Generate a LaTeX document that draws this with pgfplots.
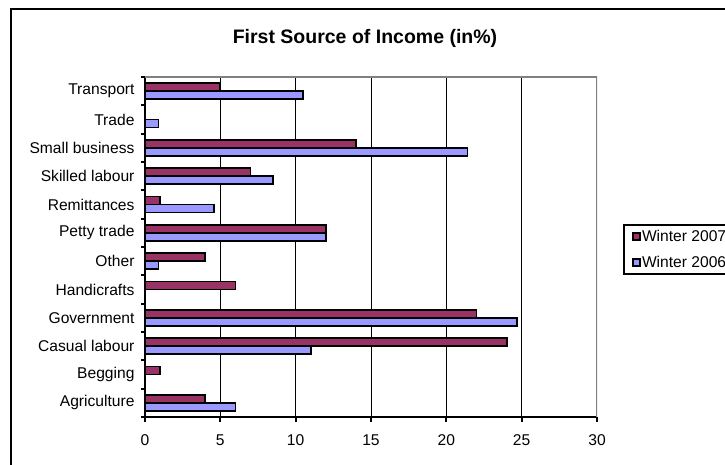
\documentclass[border=0pt]{standalone}
\usepackage{fontspec}
\setmainfont{Liberation Sans}
\usepackage{pgfplots}
\pgfplotsset{compat=1.18}
\definecolor{cA}{HTML}{993366}
\definecolor{cB}{HTML}{9999FF}
\pgfplotsset{sqlegend/.style={legend image code/.code={\draw[##1, line width=1.8pt] (0pt,-3.5pt) rectangle (7pt,3.5pt);}}}
\begin{document}
\begin{tikzpicture}[x=1pt,y=1pt]
\path[use as bounding box] (0,0) rectangle (725,464);
\draw[line width=2pt] (11,-20) -- (11,455) -- (760,455);
\node[font=\bfseries\fontsize{19.5}{23}\selectfont] at (365,426) {First Source of Income (in\%)};
\begin{axis}[at={(145pt,47pt)}, anchor=south west, scale only axis,
  width=452pt, height=340pt,
  xbar, bar width=8pt,
  xmin=0, xmax=30, ymin=-0.5, ymax=11.5,
  axis x line*=bottom, axis y line*=left,
  axis line style={line width=2pt, black},
  tick align=outside,
  xtick={0,5,...,25}, extra x ticks={30}, extra x tick style={grid=none},
  major tick length=5pt, minor tick length=4pt,
  major x tick style={line width=2pt, black},
  xmajorgrids, major x grid style={black, line width=1pt},
  ytick={0,...,11},
  yticklabels={Agriculture,Begging,Casual labour,Government,Handicrafts,Other,Petty trade,Remittances,Skilled labour,Small business,Trade,Transport},
  minor ytick={-0.5,0.5,...,11.5},
  major y tick style={draw=none},
  minor y tick style={line width=2pt, black},
  ticklabel style={font=\fontsize{15.6}{18}\selectfont},
  /pgf/number format/assume math mode=true,
  yticklabel style={xshift=-2pt},
  xticklabel style={yshift=-9pt},
  legend style={at={(1.0569,0.5676)}, anchor=north west, draw=black, line width=2pt,
    font=\fontsize{15.6}{18}\selectfont, inner xsep=8pt, inner ysep=3pt, row sep=9pt,
    nodes={inner xsep=1.5pt}},
  legend cell align=left,
]
\addplot[fill=cA, draw=black, line width=1.8pt, bar shift=4pt, sqlegend]
  coordinates {(4,0) (1,1) (24,2) (22,3) (6,4) (4,5) (12,6) (1,7) (7,8) (14,9) (5,11)};
\addlegendentry{Winter 2007}
\addplot[fill=cB, draw=black, line width=1.8pt, bar shift=-4pt, sqlegend]
  coordinates {(6,0) (11,2) (24.7,3) (0.9,5) (12,6) (4.6,7) (8.5,8) (21.4,9) (0.9,10) (10.5,11)};
\addlegendentry{Winter 2006}
\draw[color=gray, line width=1.5pt] (rel axis cs:0,1) -- (rel axis cs:1,1) -- (rel axis cs:1,0);
\end{axis}
\end{tikzpicture}
\end{document}
